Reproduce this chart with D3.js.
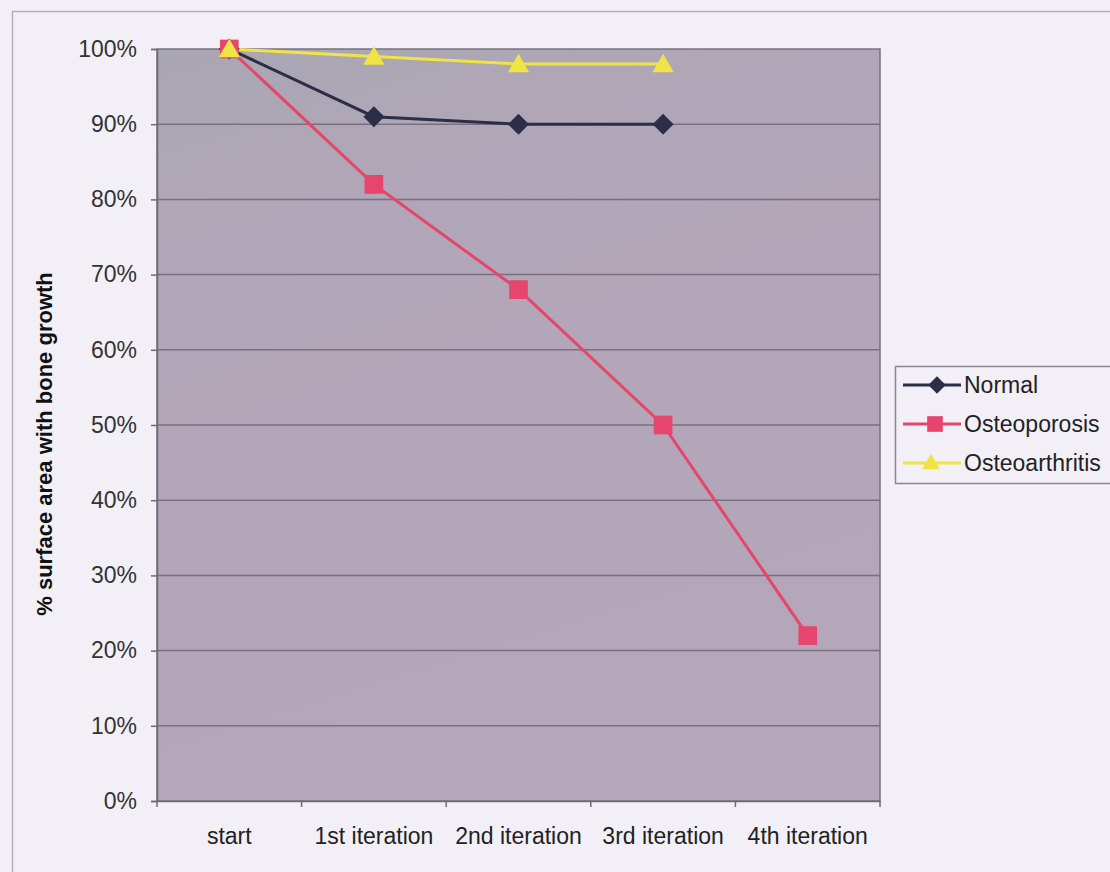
<!DOCTYPE html>
<html>
<head>
<meta charset="utf-8">
<script src="https://cdn.jsdelivr.net/npm/d3@7"></script>
<style>
  html, body { margin: 0; padding: 0; background: #f2f0f6; }
  svg { display: block; font-family: "Liberation Sans", Arial, sans-serif; }
</style>
</head>
<body>
<svg id="chart" width="1110" height="872"></svg>
<script>
// Categories along the x axis
const categories = ["start", "1st iteration", "2nd iteration", "3rd iteration", "4th iteration"];

// Series values (% surface area with bone growth); null = no measurement
const normalValues = [100, 91, 90, 90, null];
const osteoporosisValues = [100, 82, 68, 50, 22];
const osteoarthritisValues = [100, 99, 98, 98, null];

// Y axis tick values
const yTicks = [0, 10, 20, 30, 40, 50, 60, 70, 80, 90, 100];

const seriesNames = ["Normal", "Osteoporosis", "Osteoarthritis"];
const seriesValues = [normalValues, osteoporosisValues, osteoarthritisValues];
const seriesColors = ["#2c2e48", "#e6456d", "#f0e444"];

// A square-proportioned diamond (equal width and height); size = area
const symbolRhombus = {
  draw(context, size) {
    const r = Math.sqrt(size / 2);
    context.moveTo(0, -r);
    context.lineTo(r, 0);
    context.lineTo(0, r);
    context.lineTo(-r, 0);
    context.closePath();
  }
};
const seriesSymbols = [symbolRhombus, d3.symbolSquare, d3.symbolTriangle];
const symbolSizes = [220, 350, 195];

const FONT = 23;
const svg = d3.select("#chart");
const W = 1110, H = 872;
const plot = { left: 157, right: 880, top: 49, bottom: 801 };

// Outer chart frame
svg.append("rect")
  .attr("x", 12.5).attr("y", 11.5)
  .attr("width", W + 20).attr("height", H + 20)
  .attr("fill", "none").attr("stroke", "#b3b0ba").attr("stroke-width", 1.5);

const x = d3.scaleBand().domain(categories).range([plot.left, plot.right]).padding(0);
const xc = c => x(c) + x.bandwidth() / 2;
const y = d3.scaleLinear().domain([0, 100]).range([plot.bottom, plot.top]);

// Plot area background with a slight tonal shift from top-left
const defs = svg.append("defs");
const grad = defs.append("linearGradient").attr("id", "plotbg").attr("x1", 0).attr("y1", 0).attr("x2", 0.3).attr("y2", 1);
grad.append("stop").attr("offset", "0%").attr("stop-color", "#a9a7b2");
grad.append("stop").attr("offset", "25%").attr("stop-color", "#b1a6b7");
grad.append("stop").attr("offset", "100%").attr("stop-color", "#b5a6ba");

svg.append("rect")
  .attr("x", plot.left).attr("y", plot.top)
  .attr("width", plot.right - plot.left).attr("height", plot.bottom - plot.top)
  .attr("fill", "url(#plotbg)")
  .attr("stroke", "#77717d").attr("stroke-width", 1.5);

// Horizontal gridlines
svg.append("g").selectAll("line")
  .data(yTicks.filter(t => t > 0 && t < 100))
  .join("line")
  .attr("x1", plot.left).attr("x2", plot.right)
  .attr("y1", d => y(d)).attr("y2", d => y(d))
  .attr("stroke", "#7a6e80").attr("stroke-width", 1.5);

// Y axis
const yAxis = d3.axisLeft(y).tickValues(yTicks).tickFormat(d => d + "%").tickSize(6).tickPadding(14);
const gy = svg.append("g").attr("transform", `translate(${plot.left},0)`).call(yAxis);
gy.select(".domain").attr("stroke", "#6f6a74").attr("stroke-width", 1.5);
gy.selectAll(".tick line").attr("stroke", "#6f6a74").attr("stroke-width", 1.5);
gy.selectAll(".tick text").attr("fill", "#333").attr("font-size", FONT)
  .attr("font-family", "'Liberation Sans', Arial, sans-serif");

// X axis with ticks at category boundaries
const xAxis = d3.axisBottom(x).tickSize(0).tickPadding(27);
const gx = svg.append("g").attr("transform", `translate(0,${plot.bottom})`).call(xAxis);
gx.select(".domain").attr("stroke", "#6f6a74").attr("stroke-width", 1.5);
gx.selectAll(".tick text").attr("fill", "#222").attr("font-size", FONT)
  .attr("font-family", "'Liberation Sans', Arial, sans-serif");
gx.append("g").selectAll("line")
  .data(categories.map(c => x(c)).concat([plot.right]))
  .join("line")
  .attr("x1", d => d).attr("x2", d => d)
  .attr("y1", 0).attr("y2", 6)
  .attr("stroke", "#6f6a74").attr("stroke-width", 1.5);

// Y axis title
svg.append("text")
  .attr("transform", `translate(52,${(plot.top + plot.bottom) / 2 + 19}) rotate(-90)`)
  .attr("text-anchor", "middle")
  .attr("font-size", 22).attr("font-weight", "bold").attr("fill", "#111")
  .text("% surface area with bone growth");

// Series lines
const line = d3.line()
  .defined(d => d.v !== null)
  .x(d => xc(d.c))
  .y(d => y(d.v));

seriesValues.forEach((vals, i) => {
  const pts = vals.map((v, j) => ({ c: categories[j], v }));
  svg.append("path")
    .datum(pts)
    .attr("d", line)
    .attr("fill", "none")
    .attr("stroke", seriesColors[i])
    .attr("stroke-width", 3);
});

// Markers drawn after all lines (Osteoarthritis ends up on top at the start point)
seriesValues.forEach((vals, i) => {
  const pts = vals.map((v, j) => ({ c: categories[j], v })).filter(d => d.v !== null);
  svg.append("g").selectAll("path")
    .data(pts)
    .join("path")
    .attr("transform", d => `translate(${xc(d.c)},${y(d.v) + (i === 2 ? 2 : 0)})`)
    .attr("d", d3.symbol().type(seriesSymbols[i]).size(symbolSizes[i]))
    .attr("fill", seriesColors[i]);
});

// Legend
const legend = svg.append("g").attr("transform", "translate(895,366)");
legend.append("rect")
  .attr("x", 0.5).attr("y", 0.5).attr("width", 240).attr("height", 117)
  .attr("fill", "#f2f0f6").attr("stroke", "#8a8690").attr("stroke-width", 1.5);
seriesNames.forEach((name, i) => {
  const row = legend.append("g").attr("transform", `translate(0,${19 + i * 39})`);
  row.append("line").attr("x1", 8).attr("x2", 66).attr("y1", 0).attr("y2", 0)
    .attr("stroke", seriesColors[i]).attr("stroke-width", 3);
  row.append("path")
    .attr("transform", `translate(${[42, 40, 36][i]},${i === 2 ? 1 : 0})`)
    .attr("d", d3.symbol().type(seriesSymbols[i]).size(symbolSizes[i] * 0.7))
    .attr("fill", seriesColors[i]);
  row.append("text")
    .attr("x", 69).attr("y", 8)
    .attr("font-size", FONT).attr("fill", "#222")
    .text(name);
});
</script>
</body>
</html>
